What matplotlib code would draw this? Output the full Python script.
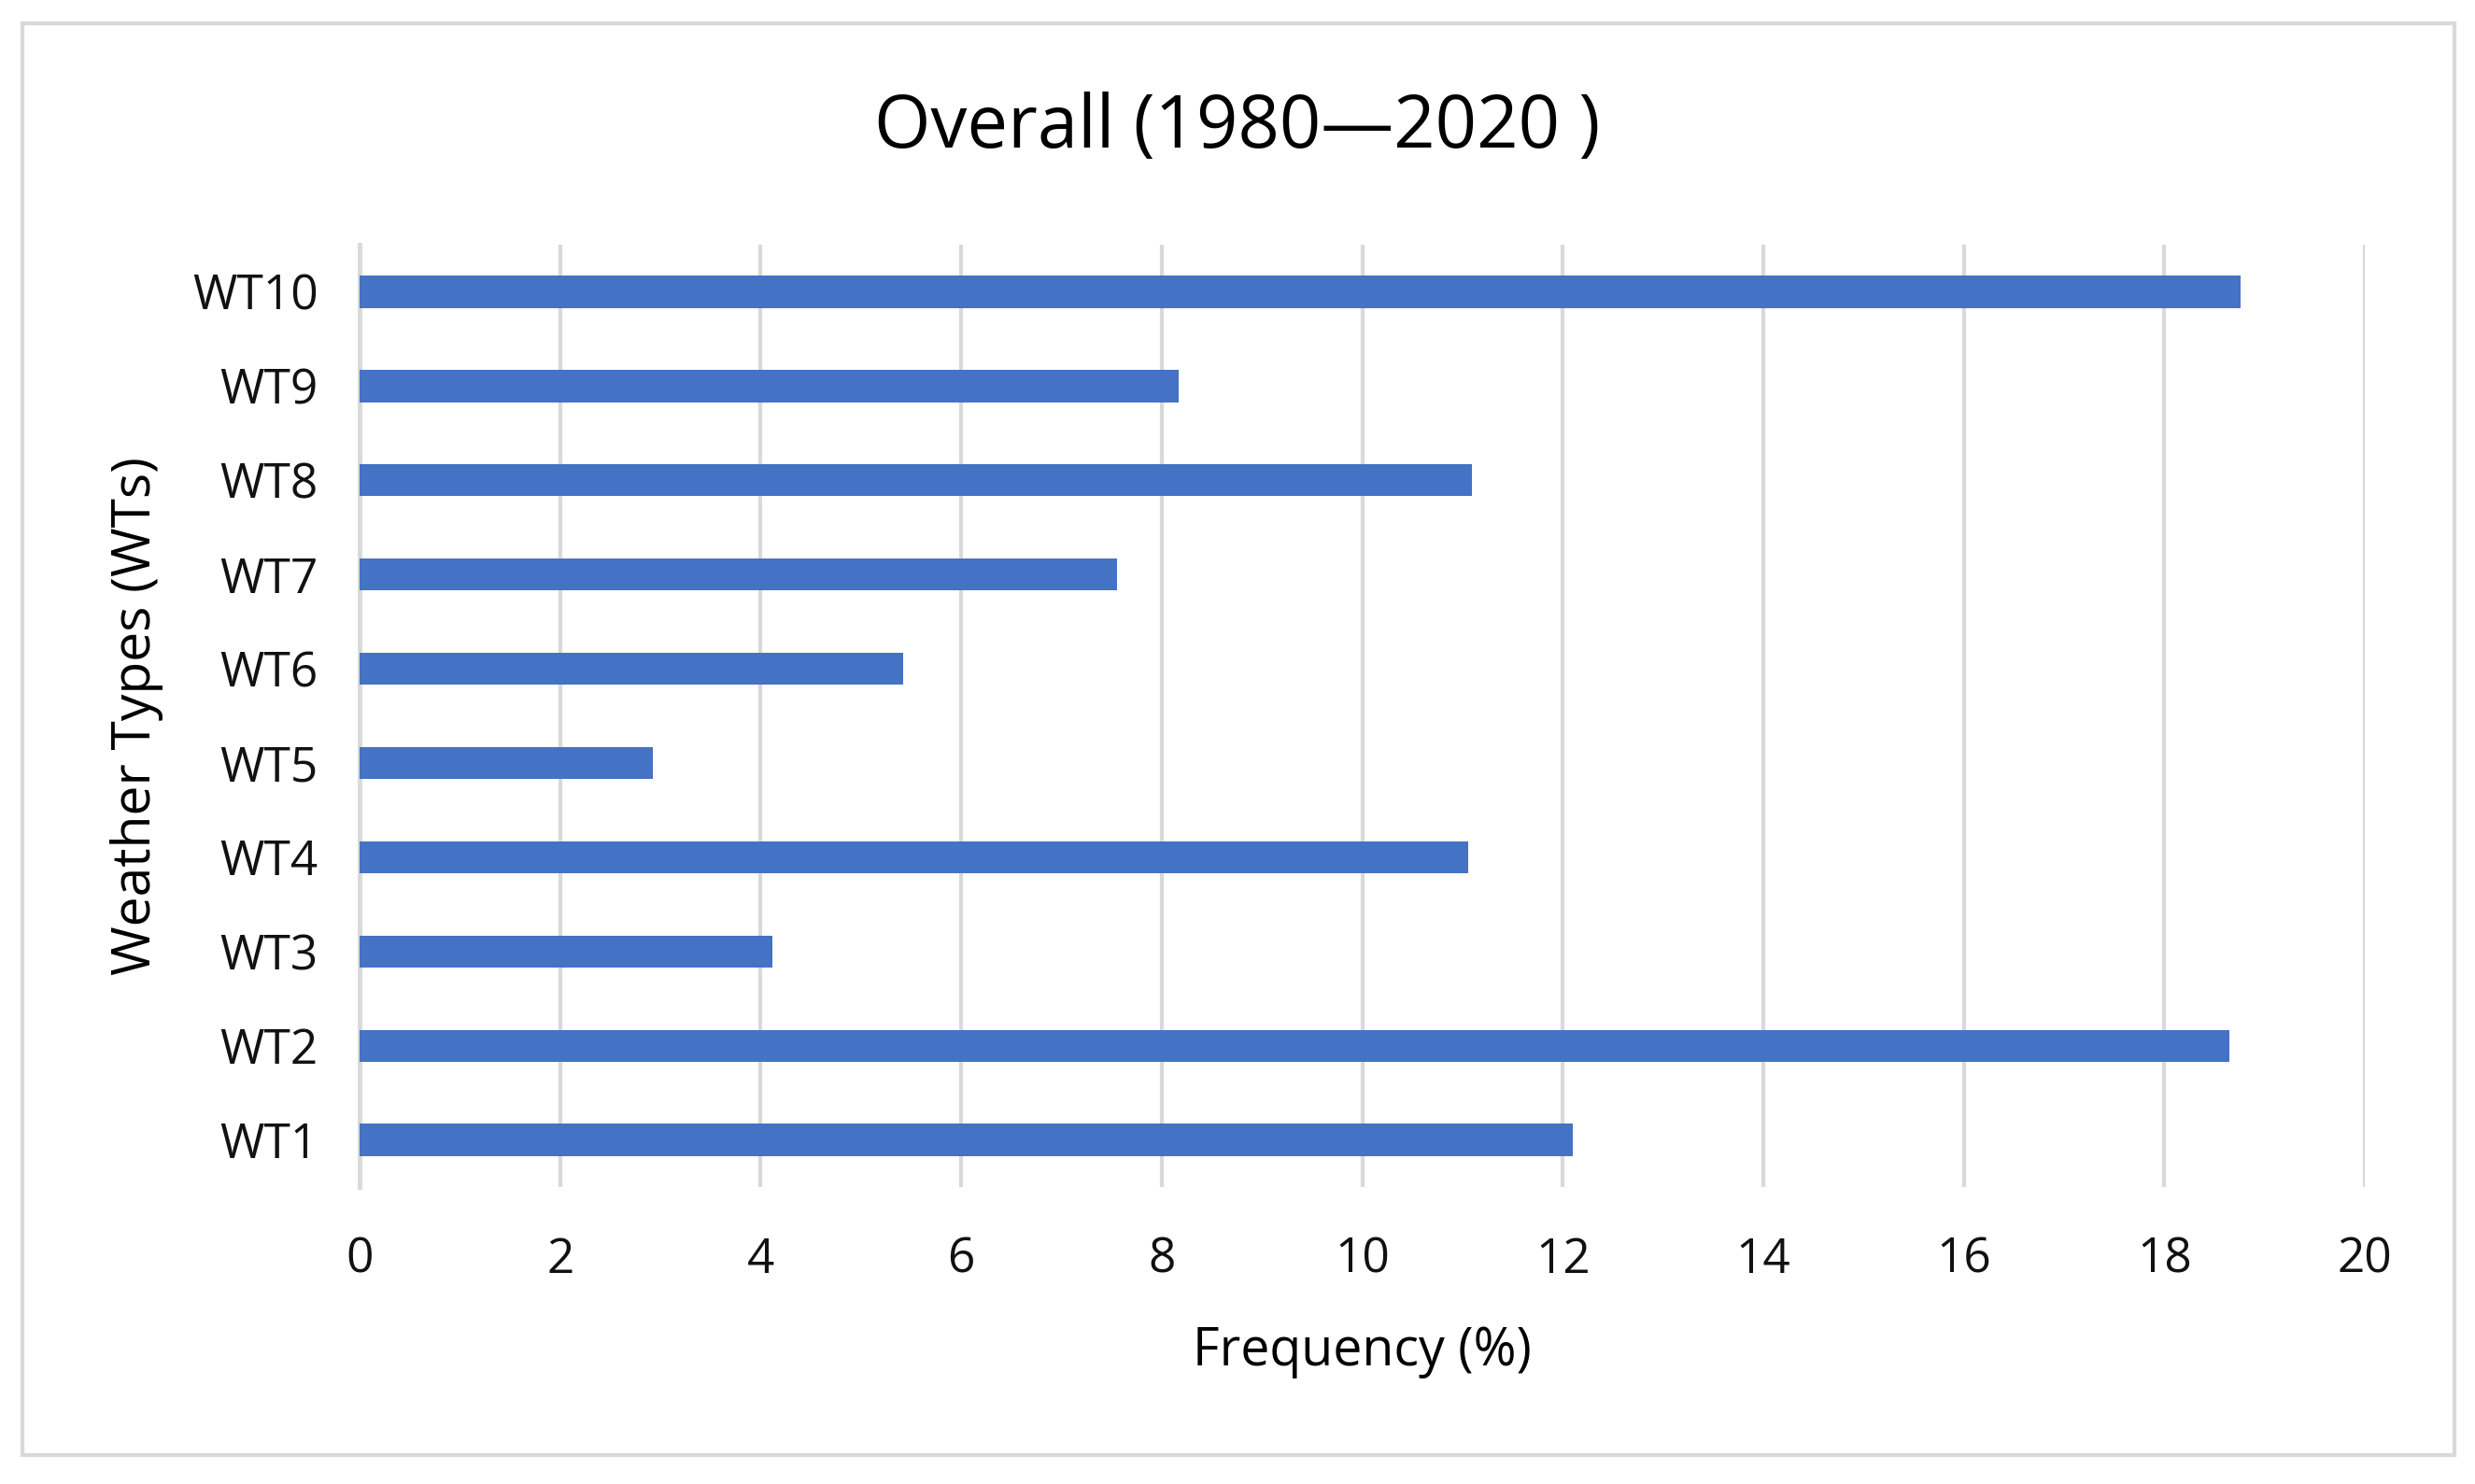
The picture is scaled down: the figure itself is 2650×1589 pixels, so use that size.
import matplotlib
matplotlib.use('Agg')
import matplotlib.pyplot as plt
from matplotlib.patches import Rectangle
import numpy as np

plt.rcParams['font.family'] = ['Open Sans', 'DejaVu Sans']

categories = ['WT1', 'WT2', 'WT3', 'WT4', 'WT5', 'WT6', 'WT7', 'WT8', 'WT9', 'WT10']
frequency = [12.10, 18.65, 4.12, 11.06, 2.92, 5.42, 7.55, 11.09, 8.17, 18.76]
xticks = [0, 2, 4, 6, 8, 10, 12, 14, 16, 18, 20]

fig = plt.figure(figsize=(26.5, 15.89), dpi=100)
ax = fig.add_axes([0.1453, 0.2001, 0.8102, 0.635])

y = np.arange(len(categories))
ax.barh(y, frequency, height=0.34, color='#4472C4', zorder=3)

ax.set_xlim(0, 20)
ax.set_ylim(-0.5, len(categories) - 0.5)
ax.set_xticks(xticks)
ax.set_yticks(y)
ax.set_yticklabels(categories)
ax.grid(axis='x', color='#d9d9d9', linewidth=3, zorder=0)
ax.set_axisbelow(True)
for s in ['top', 'right', 'bottom']:
    ax.spines[s].set_visible(False)
ax.spines['left'].set_color('#d9d9d9')
ax.spines['left'].set_linewidth(3.5)
ax.tick_params(axis='both', length=0, labelsize=37, colors='#111111')
ax.tick_params(axis='x', pad=38)
ax.tick_params(axis='y', pad=32)

ax.set_xlabel('Frequency (%)', fontsize=40, labelpad=32)
ax.set_ylabel('Weather Types (WTs)', fontsize=41, labelpad=22)
fig.text(0.5, 1 - 137 / 1589, 'Overall (1980\u20142020 )', fontsize=56,
         ha='center', va='center')

fig.patches.append(Rectangle((24 / 2650, 31 / 1589), 2604 / 2650, 1533 / 1589,
                             transform=fig.transFigure, fill=False,
                             edgecolor='#d9d9d9', linewidth=3))

fig.savefig('out.png', dpi=100)
